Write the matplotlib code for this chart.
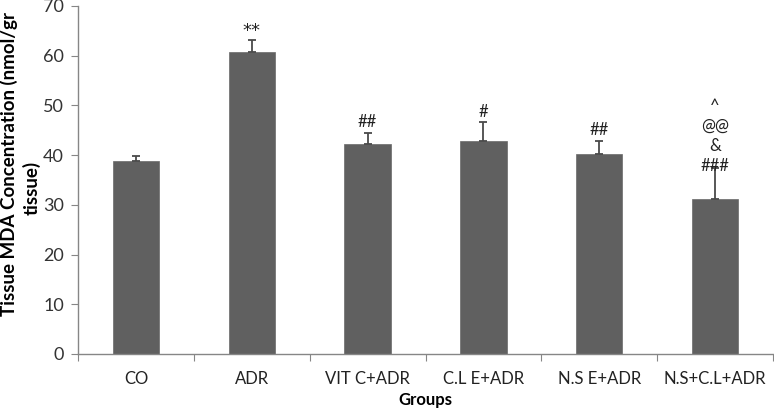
import numpy as np
import matplotlib.pyplot as plt

groups = ["CO", "ADR", "VIT C+ADR", "C.L E+ADR", "N.S E+ADR", "N.S+C.L+ADR"]
mda = [38.9, 60.7, 42.2, 42.8, 40.2, 31.1]
err = [1.0, 2.4, 2.2, 3.8, 2.7, 6.4]
marks = ["", "**", "##", "#", "##", "^\n@@\n&\n###"]

plt.rcParams["font.family"] = ["Lato", "DejaVu Sans"]
bar_col = "#606060"
axis_col = "#868686"

fig = plt.figure(figsize=(7.74, 4.08), dpi=100)
ax = fig.add_axes([78 / 774, 54 / 408, 695 / 774, 348 / 408])

x = np.arange(len(groups))
ax.bar(x, mda, width=0.4, color=bar_col, edgecolor="#6a6a6a", linewidth=0.5, zorder=2)
ax.errorbar(x, mda, yerr=[np.zeros(len(err)), err], fmt="none", ecolor="#4a4a4a",
            elinewidth=1.3, capsize=3, capthick=1.3, zorder=3)

for i, m in enumerate(marks):
    if not m:
        continue
    top = mda[i] + err[i]
    off = -4.5 if "\n" in m else 2
    fam = ["DejaVu Sans"] if m == "**" else None
    ax.annotate(m, (x[i], top), xytext=(0, off - 2 if fam else off), textcoords="offset points",
                ha="center", va="bottom", fontsize=13 if fam else 12, color="#222222",
                family=fam, linespacing=1.3, zorder=4)

ax.set_xlim(-0.5, len(groups) - 0.5)
ax.set_ylim(0, 70)
ax.set_yticks(range(0, 71, 10))
ax.set_xticks(np.arange(-0.5, len(groups)))
ax.set_xticklabels([])
ax.set_xticks(x, minor=True)
ax.set_xticklabels(groups, minor=True)
ax.tick_params(axis="x", which="major", length=5, color=axis_col, direction="out")
ax.tick_params(axis="x", which="minor", length=0, pad=12, labelsize=12, labelcolor="#222222")
ax.tick_params(axis="y", length=5, color=axis_col, labelsize=13, labelcolor="#333333", pad=5)

for s in ["top", "right"]:
    ax.spines[s].set_visible(False)
for s in ["left", "bottom"]:
    ax.spines[s].set_color(axis_col)
    ax.spines[s].set_linewidth(1.0)

ax.set_xlabel("Groups", fontsize=12, fontweight="bold", labelpad=4)

# two-line y label, sized so the first line spans about 303 px like the reference
ylab1 = fig.text(9 / 774, 1 - 163.5 / 408, "Tissue MDA Concentration (nmol/gr",
                 rotation=90, ha="center", va="center", fontsize=12, fontweight="bold")
ylab2 = fig.text(32 / 774, 1 - 188 / 408, "tissue)",
                 rotation=90, ha="center", va="center", fontsize=12, fontweight="bold")
r = fig.canvas.get_renderer()
h = ylab1.get_window_extent(r).height
fs = 12 * 303 / h
ylab1.set_fontsize(fs)
ylab2.set_fontsize(fs)

fig.savefig("out.png", dpi=100)
